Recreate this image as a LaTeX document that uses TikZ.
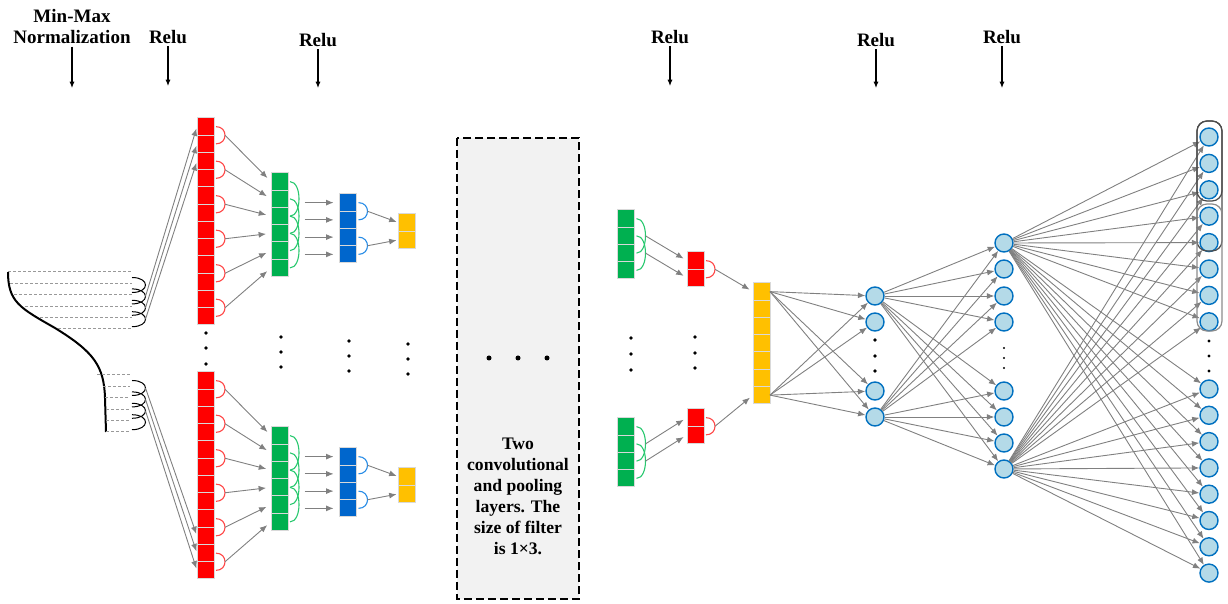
\documentclass[tikz,border=0pt]{standalone}
\usepackage{fontspec}
\setmainfont{Liberation Serif}
\usetikzlibrary{arrows.meta,calc,positioning}

\definecolor{cred}{RGB}{255,0,0}
\definecolor{cgreen}{RGB}{0,176,80}
\definecolor{cblue}{RGB}{0,102,204}
\definecolor{cyellow}{RGB}{255,192,0}
\definecolor{redarc}{RGB}{255,70,70}
\definecolor{greenarc}{RGB}{40,200,110}
\definecolor{bluearc}{RGB}{40,140,230}
\definecolor{cfill}{RGB}{180,218,232}
\definecolor{cring}{RGB}{0,112,192}
\definecolor{arrgray}{RGB}{128,128,128}
\definecolor{boxgray}{RGB}{242,242,242}

\tikzset{
  cell/.style={draw=black!15, line width=0.5pt, minimum width=8.5pt,
    minimum height=8.625pt, inner sep=0pt, outer sep=0pt},
  unit/.style={circle, draw=cring, fill=cfill, line width=0.7pt,
    minimum size=9pt, inner sep=0pt},
  arr/.style={draw=arrgray, line width=0.45pt, -{Latex[length=3.7pt,width=3pt]}},
  hdr/.style={font=\fontsize{9.5}{10.5}\selectfont\bfseries, align=center, inner sep=1pt},
  down/.style={line width=0.55pt, -{Latex[length=3.2pt,width=2.6pt]}},
  inline/.style={draw=black!40, line width=0.5pt, dash pattern=on 1.5pt off 1pt},
  boxdash/.style={draw=black, fill=boxgray, line width=0.9pt, dash pattern=on 4pt off 2pt},
}

% a column of cells, named prefix-1 ... prefix-n from the top
\newcommand{\cellcol}[5]{% prefix, x, top, count, colour
  \foreach \k in {1,...,#4}
    \node[cell, fill=#5] (#1-\k) at (#2,{#3+17.25*(\k-0.5)}) {};
}
% a filter arc right of two cells, with its tip as a coordinate
\newcommand{\farc}[4]{% name, first cell, last cell, colour
  \draw[#4, line width=0.55pt] ($(#2.east)+(2,0)$) .. controls ($(#2.east)+(14,0)$)
    and ($(#3.east)+(14,0)$) .. ($(#3.east)+(2,0)$);
  \coordinate (#1) at ($(#2.east)!0.5!(#3.east)+(11,0)$);
}
\newcommand{\dotcol}[5]{% x, y1, y2, y3, radius
  \foreach \yy in {#2,#3,#4} \fill (#1,\yy) circle (#5);
}

\begin{document}
\begin{tikzpicture}[x=0.5pt,y=-0.5pt]
\useasboundingbox (0,0) rectangle (1228,604);

% headers
\node[hdr] (mm) at (72,27) {Min-Max\\Normalization};
\node[hdr] (relu1) at (168,37) {Relu};
\node[hdr] (relu2) at (318,40) {Relu};
\node[hdr] (relu3) at (670,37) {Relu};
\node[hdr] (relu4) at (876,40) {Relu};
\node[hdr] (relu5) at (1002,37) {Relu};
\coordinate (mm-e) at (72,88);
\coordinate (relu1-e) at (168,86);
\coordinate (relu2-e) at (318,88);
\coordinate (relu3-e) at (670,86);
\coordinate (relu4-e) at (876,88);
\coordinate (relu5-e) at (1002,88);
\foreach \n in {mm,relu1,relu2,relu3,relu4,relu5}
  \draw[down] (\n.south) -- (\n-e);

% input curve and sampled values
\draw[line width=1pt] (8,272) .. controls (8,302) and (20,308) .. (55,328)
  .. controls (94,352) and (104,366) .. (105,398) -- (106,432);
\foreach \y/\x [count=\i] in {272/8,283.4/10,294.8/14,306.2/25,317.6/40,329/58}
  \draw[inline] (\x,\y) -- (132,\y);
\foreach \y/\x [count=\i] in {375/97,386.4/103,397.8/105,409.2/106,420.6/106,432/106}
  \draw[inline] (\x,\y) -- (130,\y);
\foreach \i in {1,...,4}{
  \draw[line width=0.5pt] (132,{266.1+11.4*\i}) .. controls (150,{266.1+11.4*\i})
    and (150,{281.1+11.4*\i}) .. (132,{281.1+11.4*\i});
  \coordinate (la1-\i) at (145.5,{273.6+11.4*\i});
  \draw[line width=0.5pt] (132,{369.1+11.4*\i}) .. controls (150,{369.1+11.4*\i})
    and (150,{384.1+11.4*\i}) .. (132,{384.1+11.4*\i});
  \coordinate (la2-\i) at (145.5,{376.6+11.4*\i});
}

% upper and lower branches
\cellcol{r1}{205.5}{118}{12}{cred}
\cellcol{g1}{279.5}{173}{6}{cgreen}
\cellcol{b1}{348}{194}{4}{cblue}
\cellcol{yl1}{407}{214}{2}{cyellow}
\cellcol{r2}{205.5}{372}{12}{cred}
\cellcol{g2}{279.5}{427}{6}{cgreen}
\cellcol{b2}{348}{448}{4}{cblue}
\cellcol{yl2}{407}{468}{2}{cyellow}

\foreach \i/\c in {2/1,3/2,4/3}
  \draw[arr, shorten >=1pt] (la1-\i) -- (r1-\c.west);
\foreach \i/\c in {1/10,2/11,3/12}
  \draw[arr, shorten >=1pt] (la2-\i) -- (r2-\c.west);

\foreach \br in {1,2}{
  \foreach \i [evaluate=\i as \a using int(2*\i-1),
               evaluate=\i as \b using int(2*\i)] in {1,...,6}{
    \farc{ra\br-\i}{r\br-\a}{r\br-\b}{redarc}
    \draw[arr, shorten >=2.5pt] (ra\br-\i) -- (g\br-\i.west);
  }
  \foreach \i [evaluate=\i as \b using int(\i+2)] in {1,...,4}{
    \farc{ga\br-\i}{g\br-\i}{g\br-\b}{greenarc}
    \coordinate (gs\br-\i) at ($(b\br-\i.west)+(-35,0)$);
    \draw[arr, shorten >=3pt] (gs\br-\i) -- (b\br-\i.west);
  }
  \farc{ba\br-1}{b\br-1}{b\br-2}{bluearc}
  \farc{ba\br-2}{b\br-3}{b\br-4}{bluearc}
  \draw[arr, shorten >=1pt] (ba\br-1) -- (yl\br-1.west);
  \draw[arr, shorten >=1pt] (ba\br-2) -- (yl\br-2.west);
}

\dotcol{206}{333}{348}{364}{0.9pt}
\dotcol{281}{337}{352}{367}{0.9pt}
\dotcol{349}{341}{356}{371}{0.9pt}
\dotcol{408}{344}{359}{374}{0.9pt}

% convolution and pooling block
\draw[boxdash] (457,138) rectangle (579,599);
\foreach \x in {489,518,547} \fill (\x,358) circle (1.25pt);
\node[font=\fontsize{8.8}{10.5}\selectfont\bfseries, align=center] (convtxt)
  at (518,496) {Two\\convolutional\\and pooling\\layers. The\\size of filter\\is 1×3.};

% last conv layers
\cellcol{G1}{626}{210}{4}{cgreen}
\cellcol{G2}{626}{418}{4}{cgreen}
\cellcol{R1}{695.5}{252}{2}{cred}
\cellcol{R2}{695.5}{409}{2}{cred}
\cellcol{Y}{761.5}{283}{7}{cyellow}
\foreach \br in {1,2}{
  \farc{GA\br-1}{G\br-1}{G\br-3}{greenarc}
  \farc{GA\br-2}{G\br-2}{G\br-4}{greenarc}
  \draw[arr, shorten >=2pt] (GA\br-1) -- (R\br-1.west);
  \draw[arr, shorten >=2pt] (GA\br-2) -- (R\br-2.west);
  \farc{RA\br}{R\br-1}{R\br-2}{redarc}
}
\draw[arr, shorten >=2pt] (RA1) -- (Y-1.west);
\draw[arr, shorten >=2pt] (RA2) -- (Y-7.west);
\dotcol{631}{338}{354}{370}{0.9pt}
\dotcol{695}{337}{353}{368}{0.9pt}

% fully connected layers
\foreach \y [count=\k] in {296,322,391,417}
  \node[unit] (h1-\k) at (875,\y) {};
\foreach \y [count=\k] in {243,269,296,322,391,417,443,469}
  \node[unit] (h2-\k) at (1004,\y) {};
\foreach \k in {1,...,8}
  \node[unit] (o-\k) at (1209,{137+26.4*(\k-1)}) {};
\foreach \k in {9,...,16}
  \node[unit] (o-\k) at (1209,{389+26.3*(\k-9)}) {};
\dotcol{875}{340}{356}{371}{0.9pt}
\dotcol{1004}{348}{358}{368}{0.6pt}
\dotcol{1209}{341}{356}{371}{0.8pt}

\foreach \s in {1,7} \foreach \t in {1,...,4}
  \draw[arr] (Y-\s.east) -- (h1-\t);
\foreach \s in {1,4} \foreach \t in {1,...,8}
  \draw[arr] (h1-\s) -- (h2-\t);
\foreach \s in {1,8} \foreach \t in {1,...,16}
  \draw[arr] (h2-\s) -- (o-\t);

% output groups
\draw[black!70, line width=0.6pt, rounded corners=5pt] (1197,121) rectangle (1222,201);
\draw[black!70, line width=0.6pt, rounded corners=5pt] (1197,121) rectangle (1222,251);
\draw[black!45, line width=0.6pt, rounded corners=5pt] (1197,204) rectangle (1222,331);
\end{tikzpicture}
\end{document}
